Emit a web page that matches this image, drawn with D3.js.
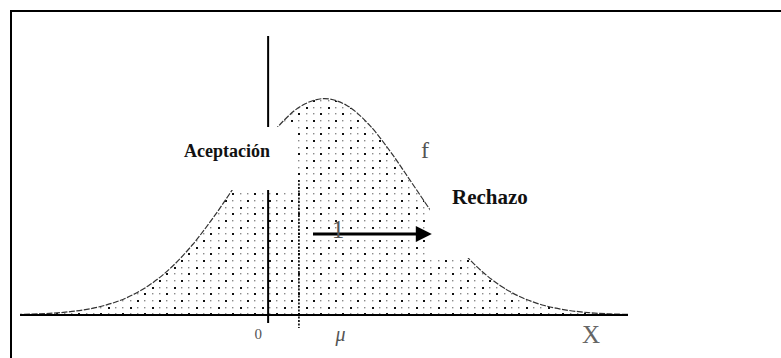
<!DOCTYPE html>
<html>
<head>
<meta charset="utf-8">
<script src="https://cdn.jsdelivr.net/npm/d3@7"></script>
<style>
  html, body { margin: 0; padding: 0; background: #fff; }
  svg { display: block; }
</style>
</head>
<body>
<div id="chart"></div>
<script>
// ---- data ----
const xValues = [-2.86, -2.61, -2.36, -2.11, -1.86, -1.61, -1.36, -1.11, -0.86, -0.61,
                 -0.36, -0.11, 0.14, 0.39, 0.64, 0.89, 1.14, 1.39, 1.64, 1.89,
                 2.14, 2.39, 2.64, 2.89, 3.14, 3.39, 3.64, 3.89, 4.14];
const density = [0.0009, 0.0020, 0.0044, 0.0091, 0.0175, 0.0317, 0.0540, 0.0863, 0.1295, 0.1826,
                 0.2420, 0.3011, 0.3521, 0.3867, 0.3989, 0.3867, 0.3521, 0.3011, 0.2420, 0.1826,
                 0.1295, 0.0863, 0.0540, 0.0317, 0.0175, 0.0091, 0.0044, 0.0020, 0.0009];
const axisExtent = [-2.82, 4.09];
const zeroValue = 0;
const criticalValue = 0.35;
const muValue = 0.64;
const shiftStart = 0.51;
const shiftEnd = 1.86;
const tickLabels = ["0", "μ", "X"];
const regionLabels = ["Aceptación", "Rechazo"];
const curveLabel = "f";
const shiftLabel = "1";

// ---- layout ----
const W = 781, H = 358;
const svg = d3.select("#chart").append("svg").attr("width", W).attr("height", H);

const x = d3.scaleLinear().domain(axisExtent).range([20, 628]);
const y = d3.scaleLinear().domain([0, 0.4]).range([315, 98]);

const pts = xValues.map((v, i) => ({x: v, y: density[i]}));

const defs = svg.append("defs");
const pat = defs.append("pattern")
  .attr("id", "dots").attr("patternUnits", "userSpaceOnUse")
  .attr("width", 22).attr("height", 20).attr("x", 5).attr("y", 0);
const cols = [0, 7, 15], rows = [0, 7, 13];
rows.forEach((ry, ri) => cols.forEach((cx, ci) => {
  const dark = (ri === 0 && ci === 0) || (ri === 2 && ci === 1) || (ri === 1 && ci === 2);
  pat.append("rect").attr("x", cx).attr("y", ry)
    .attr("width", dark ? 2 : 1.4).attr("height", dark ? 2 : 1.4)
    .attr("fill", dark ? "#111" : "#8a8a8a");
}));

defs.append("clipPath").attr("id", "clip").append("rect")
  .attr("x", x(axisExtent[0])).attr("y", 0)
  .attr("width", x(axisExtent[1]) - x(axisExtent[0])).attr("height", H);

const g = svg.append("g").attr("clip-path", "url(#clip)");

const area = d3.area().x(d => x(d.x)).y0(y(0)).y1(d => y(d.y)).curve(d3.curveCatmullRom);
const line = d3.line().x(d => x(d.x)).y(d => y(d.y)).curve(d3.curveCatmullRom);

g.append("path").datum(pts).attr("d", area).attr("fill", "url(#dots)");
g.append("path").datum(pts).attr("d", line)
  .attr("fill", "none").attr("stroke", "#333").attr("stroke-width", 1.2)
  .attr("stroke-dasharray", "6,1.5");

// frame (left and top)
svg.append("line").attr("x1", 11).attr("x2", 11).attr("y1", 10).attr("y2", H)
  .attr("stroke", "#000").attr("stroke-width", 2);
svg.append("line").attr("x1", 10).attr("x2", W).attr("y1", 11).attr("y2", 11)
  .attr("stroke", "#000").attr("stroke-width", 2);

// x axis line
svg.append("line").attr("x1", x(axisExtent[0])).attr("x2", x(axisExtent[1]))
  .attr("y1", y(0)).attr("y2", y(0)).attr("stroke", "#000").attr("stroke-width", 2);

// vertical line at 0
svg.append("line").attr("x1", x(zeroValue)).attr("x2", x(zeroValue))
  .attr("y1", 36).attr("y2", y(0) + 8).attr("stroke", "#000").attr("stroke-width", 2);

// dotted critical line
svg.append("line").attr("x1", x(criticalValue)).attr("x2", x(criticalValue))
  .attr("y1", 180).attr("y2", y(0) + 13)
  .attr("stroke", "#000").attr("stroke-width", 1.6).attr("stroke-dasharray", "2,1.5");

// white masks behind labels
svg.append("rect").attr("x", 150).attr("y", 127)
  .attr("width", x(criticalValue) - 150 - 1).attr("height", 63).attr("fill", "#fff");
svg.append("rect").attr("x", x(shiftEnd) - 2).attr("y", 160)
  .attr("width", 300).attr("height", 98).attr("fill", "#fff");

// arrow
const ay = 234;
svg.append("line").attr("x1", x(shiftStart)).attr("x2", x(shiftEnd) - 14)
  .attr("y1", ay).attr("y2", ay).attr("stroke", "#000").attr("stroke-width", 3);
svg.append("path")
  .attr("d", `M${x(shiftEnd)},${ay} L${x(shiftEnd) - 16},${ay - 8} L${x(shiftEnd) - 16},${ay + 8} Z`)
  .attr("fill", "#000");

const serif = "Liberation Serif, Times New Roman, DejaVu Serif, serif";

svg.append("text").attr("x", x(shiftStart) + 25).attr("y", 238)
  .attr("text-anchor", "middle").attr("font-family", serif).attr("font-size", 25)
  .attr("fill", "#555").text(shiftLabel);

svg.append("text").attr("x", 227).attr("y", 157)
  .attr("text-anchor", "middle").attr("font-family", serif).attr("font-weight", "bold")
  .attr("font-size", 18).attr("fill", "#111").text(regionLabels[0]);

svg.append("text").attr("x", 452).attr("y", 204)
  .attr("font-family", serif).attr("font-weight", "bold")
  .attr("font-size", 21).attr("fill", "#111").text(regionLabels[1]);

svg.append("text").attr("x", 425).attr("y", 158)
  .attr("text-anchor", "middle").attr("font-family", serif).attr("font-size", 24)
  .attr("fill", "#555").text(curveLabel);

// axis labels
svg.append("text").attr("x", x(zeroValue) - 10).attr("y", 339)
  .attr("text-anchor", "middle").attr("font-family", serif).attr("font-size", 15)
  .attr("fill", "#555").text(tickLabels[0]);
svg.append("text").attr("x", x(muValue) + 16).attr("y", 341)
  .attr("text-anchor", "middle").attr("font-family", serif).attr("font-style", "italic")
  .attr("font-size", 20).attr("fill", "#555").text(tickLabels[1]);
svg.append("text").attr("x", 591).attr("y", 343)
  .attr("text-anchor", "middle").attr("font-family", serif).attr("font-size", 25)
  .attr("fill", "#666").text(tickLabels[2]);
</script>
</body>
</html>
